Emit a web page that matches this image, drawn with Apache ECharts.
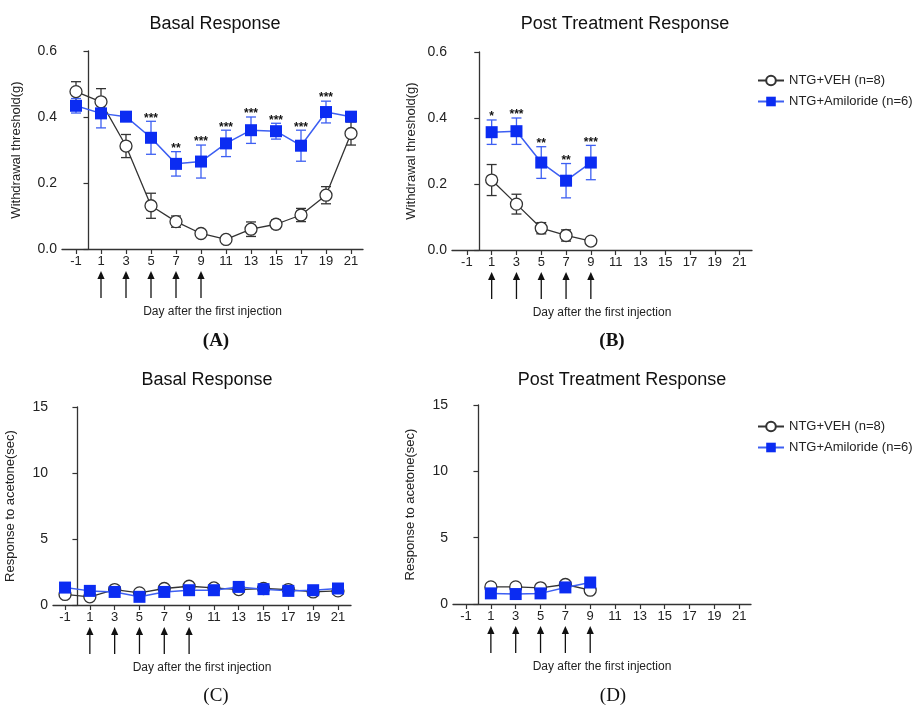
<!DOCTYPE html>
<html><head><meta charset="utf-8">
<script src="https://cdn.jsdelivr.net/npm/echarts@6/dist/echarts.min.js"></script>
<style>html,body{margin:0;padding:0;background:#fff}#c{width:918px;height:710px}</style>
</head><body><div id="c"></div>
<script>
const dayTicks = [-1,1,3,5,7,9,11,13,15,17,19,21];
const injectionDays = [1,3,5,7,9];
const daysBasal = [-1,1,3,5,7,9,11,13,15,17,19,21];
const daysPost = [1,3,5,7,9];
const vehName = 'NTG+VEH (n=8)';
const amiName = 'NTG+Amiloride (n=6)';
// Panel A: basal withdrawal threshold (g)
const aVeh   = [0.477,0.446,0.312,0.131,0.083,0.047,0.029,0.060,0.075,0.103,0.163,0.350];
const aVehSE = [0.030,0.040,0.035,0.038,0.017,0.006,0.005,0.022,0.013,0.020,0.026,0.035];
const aAmi   = [0.434,0.411,0.401,0.337,0.258,0.265,0.320,0.360,0.357,0.313,0.415,0.401];
const aAmiSE = [0.022,0.044,0.006,0.050,0.037,0.050,0.040,0.040,0.024,0.047,0.033,0.010];
const aStars = ['','','','***','**','***','***','***','***','***','***',''];
// Panel B: post-treatment withdrawal threshold (g)
const bVeh   = [0.212,0.139,0.066,0.044,0.027];
const bVehSE = [0.047,0.030,0.017,0.017,0.004];
const bAmi   = [0.357,0.360,0.265,0.210,0.265];
const bAmiSE = [0.037,0.040,0.048,0.052,0.052];
const bStars = ['*','***','**','**','***'];
// Panel C: basal response to acetone (sec)
const cVeh = [0.80,0.62,1.17,0.92,1.25,1.42,1.29,1.17,1.25,1.17,0.99,1.07];
const cAmi = [1.32,1.07,0.99,0.62,0.99,1.12,1.12,1.37,1.20,1.07,1.12,1.25];
// Panel D: post-treatment response to acetone (sec)
const dVeh = [1.29,1.29,1.22,1.47,1.04];
const dAmi = [0.80,0.75,0.80,1.25,1.62];

const FONT = 'Liberation Sans, Arial, Helvetica, sans-serif';
const AX = '#333';
const VEH_C = '#333';
const AMI_C = '#0b2cf2';
const AMI_L = '#3d5ff2';

const zip = (xs, ys, es) => xs.map((x,i) => es ? [x, ys[i], es[i]] : [x, ys[i]]);

const grids = [
  {left:62, top:51, width:301, height:198},
  {left:452, top:52, width:300, height:198},
  {left:53, top:407, width:298, height:198},
  {left:453, top:405, width:298, height:199}
];
const xr = [[-2.12,21.96],[-2.2,22],[-1.97,22.05],[-2.05,21.95]];

function xAxis(g){
  return {type:'value', gridIndex:g, min:xr[g][0], max:xr[g][1],
    axisLine:{show:true, onZero:false, lineStyle:{color:AX, width:1.3}},
    axisTick:{show:true, customValues:dayTicks, length:5, lineStyle:{color:AX, width:1.2}},
    axisLabel:{customValues:dayTicks, fontSize:13, color:'#222', margin:6, fontFamily:FONT},
    splitLine:{show:false},
    name:'Day after the first injection', nameLocation:'middle', nameGap:57,
    nameTextStyle:{fontSize:12, color:'#222', fontFamily:FONT}};
}
function yAxis(g, max, interval, name, gap, dec){
  return {type:'value', gridIndex:g, min:0, max:max, interval:interval,
    axisLine:{show:true, lineStyle:{color:AX, width:1.3}},
    axisTick:{show:true, length:5, lineStyle:{color:AX, width:1.2}},
    axisLabel:{fontSize:14, color:'#222', margin:5, fontFamily:FONT,
      formatter: v => dec ? v.toFixed(1) : String(v)},
    splitLine:{show:false},
    name:name, nameLocation:'middle', nameGap:gap,
    nameTextStyle:{fontSize:13, color:'#222', fontFamily:FONT}};
}
function errSeries(g, data, color){
  return {type:'custom', xAxisIndex:g, yAxisIndex:g, z:1, clip:false, silent:true,
    encode:{x:0, y:1}, data:data,
    renderItem:function(params, api){
      const x = api.value(0), y = api.value(1), e = api.value(2);
      const t = api.coord([x, y+e]), b = api.coord([x, y-e]);
      const w = 5, st = {stroke:color, lineWidth:1.3};
      return {type:'group', children:[
        {type:'line', shape:{x1:t[0], y1:t[1], x2:b[0], y2:b[1]}, style:st},
        {type:'line', shape:{x1:t[0]-w, y1:t[1], x2:t[0]+w, y2:t[1]}, style:st},
        {type:'line', shape:{x1:b[0]-w, y1:b[1], x2:b[0]+w, y2:b[1]}, style:st}
      ]};
    }};
}
function starSeries(g, days, vals, ses, stars){
  return {type:'custom', xAxisIndex:g, yAxisIndex:g, z:5, clip:false, silent:true,
    encode:{x:0, y:1}, data: days.map((d,i)=>[d, vals[i]+ses[i]]),
    renderItem:function(params, api){
      const s = stars[params.dataIndex];
      if (!s) return null;
      const p = api.coord([api.value(0), api.value(1)]);
      return {type:'text', style:{text:s, x:p[0], y:p[1]+3, textAlign:'center',
        textVerticalAlign:'bottom', font:'bold 12px '+FONT, fill:'#111'}};
    }};
}
function arrowSeries(g){
  return {type:'custom', xAxisIndex:g, yAxisIndex:g, z:5, clip:false, silent:true,
    encode:{x:0, y:1}, data: injectionDays.map(d=>[d, 0]),
    renderItem:function(params, api){
      const p = api.coord([api.value(0), 0]);
      const x = p[0], y = p[1];
      return {type:'group', children:[
        {type:'line', shape:{x1:x, y1:y+28, x2:x, y2:y+49}, style:{stroke:'#111', lineWidth:1.3}},
        {type:'polygon', shape:{points:[[x,y+22],[x-3.6,y+30],[x+3.6,y+30]]}, style:{fill:'#111'}}
      ]};
    }};
}
function vehLine(g, data){
  return {type:'line', name:vehName, xAxisIndex:g, yAxisIndex:g, data:data, z:3,
    symbol:'circle', symbolSize:12,
    itemStyle:{color:'#fff', borderColor:VEH_C, borderWidth:1.3},
    lineStyle:{color:VEH_C, width:1.3}};
}
function amiLine(g, data){
  return {type:'line', name:amiName, xAxisIndex:g, yAxisIndex:g, data:data, z:4,
    symbol:'rect', symbolSize:12,
    itemStyle:{color:AMI_C, borderColor:AMI_C, borderWidth:0},
    lineStyle:{color:AMI_L, width:1.5}};
}
function titleAt(text, x, y, opts){
  return Object.assign({text:text, left:x, top:y, textAlign:'center',
    textStyle:{fontSize:18, fontWeight:'normal', color:'#111', fontFamily:FONT}}, opts||{});
}
const serif = {fontSize:19, fontWeight:'bold', color:'#111', fontFamily:'Liberation Serif, DejaVu Serif, serif'};
const serifReg = {fontSize:19, fontWeight:'normal', color:'#111', fontFamily:'Liberation Serif, DejaVu Serif, serif'};

const legendText = {fontSize:13, color:'#222', fontFamily:FONT};
const option = {
  animation:false,
  backgroundColor:'#fff',
  title:[
    titleAt('Basal Response', 210, 10),
    titleAt('Post Treatment Response', 620, 10),
    titleAt('Basal Response', 202, 366),
    titleAt('Post Treatment Response', 617, 366),
    titleAt('(A)', 211, 327, {textStyle:serif}),
    titleAt('(B)', 607, 327, {textStyle:serif}),
    titleAt('(C)', 211, 682, {textStyle:serifReg}),
    titleAt('(D)', 608, 682, {textStyle:serifReg})
  ],
  legend:[
    {left:752, top:69, orient:'vertical', itemWidth:26, itemHeight:12, itemGap:8,
     data:[vehName, amiName], textStyle:legendText},
    {left:752, top:415, orient:'vertical', itemWidth:26, itemHeight:12, itemGap:8,
     data:[vehName, amiName], textStyle:legendText}
  ],
  grid:grids,
  xAxis:[xAxis(0), xAxis(1), xAxis(2), xAxis(3)],
  yAxis:[
    yAxis(0, 0.6, 0.2, 'Withdrawal threshold(g)', 39, true),
    yAxis(1, 0.6, 0.2, 'Withdrawal threshold(g)', 34, true),
    yAxis(2, 15, 5, 'Response to acetone(sec)', 36, false),
    yAxis(3, 15, 5, 'Response to acetone(sec)', 36, false)
  ],
  series:[
    errSeries(0, zip(daysBasal, aVeh, aVehSE), VEH_C),
    errSeries(0, zip(daysBasal, aAmi, aAmiSE), AMI_L),
    vehLine(0, zip(daysBasal, aVeh)),
    amiLine(0, zip(daysBasal, aAmi)),
    starSeries(0, daysBasal, aAmi, aAmiSE, aStars),
    arrowSeries(0),

    errSeries(1, zip(daysPost, bVeh, bVehSE), VEH_C),
    errSeries(1, zip(daysPost, bAmi, bAmiSE), AMI_L),
    vehLine(1, zip(daysPost, bVeh)),
    amiLine(1, zip(daysPost, bAmi)),
    starSeries(1, daysPost, bAmi, bAmiSE, bStars),
    arrowSeries(1),

    vehLine(2, zip(daysBasal, cVeh)),
    amiLine(2, zip(daysBasal, cAmi)),
    arrowSeries(2),

    vehLine(3, zip(daysPost, dVeh)),
    amiLine(3, zip(daysPost, dAmi)),
    arrowSeries(3)
  ]
};
const chart = echarts.init(document.getElementById('c'), null, {renderer:'canvas'});
chart.setOption(option);
</script></body></html>
